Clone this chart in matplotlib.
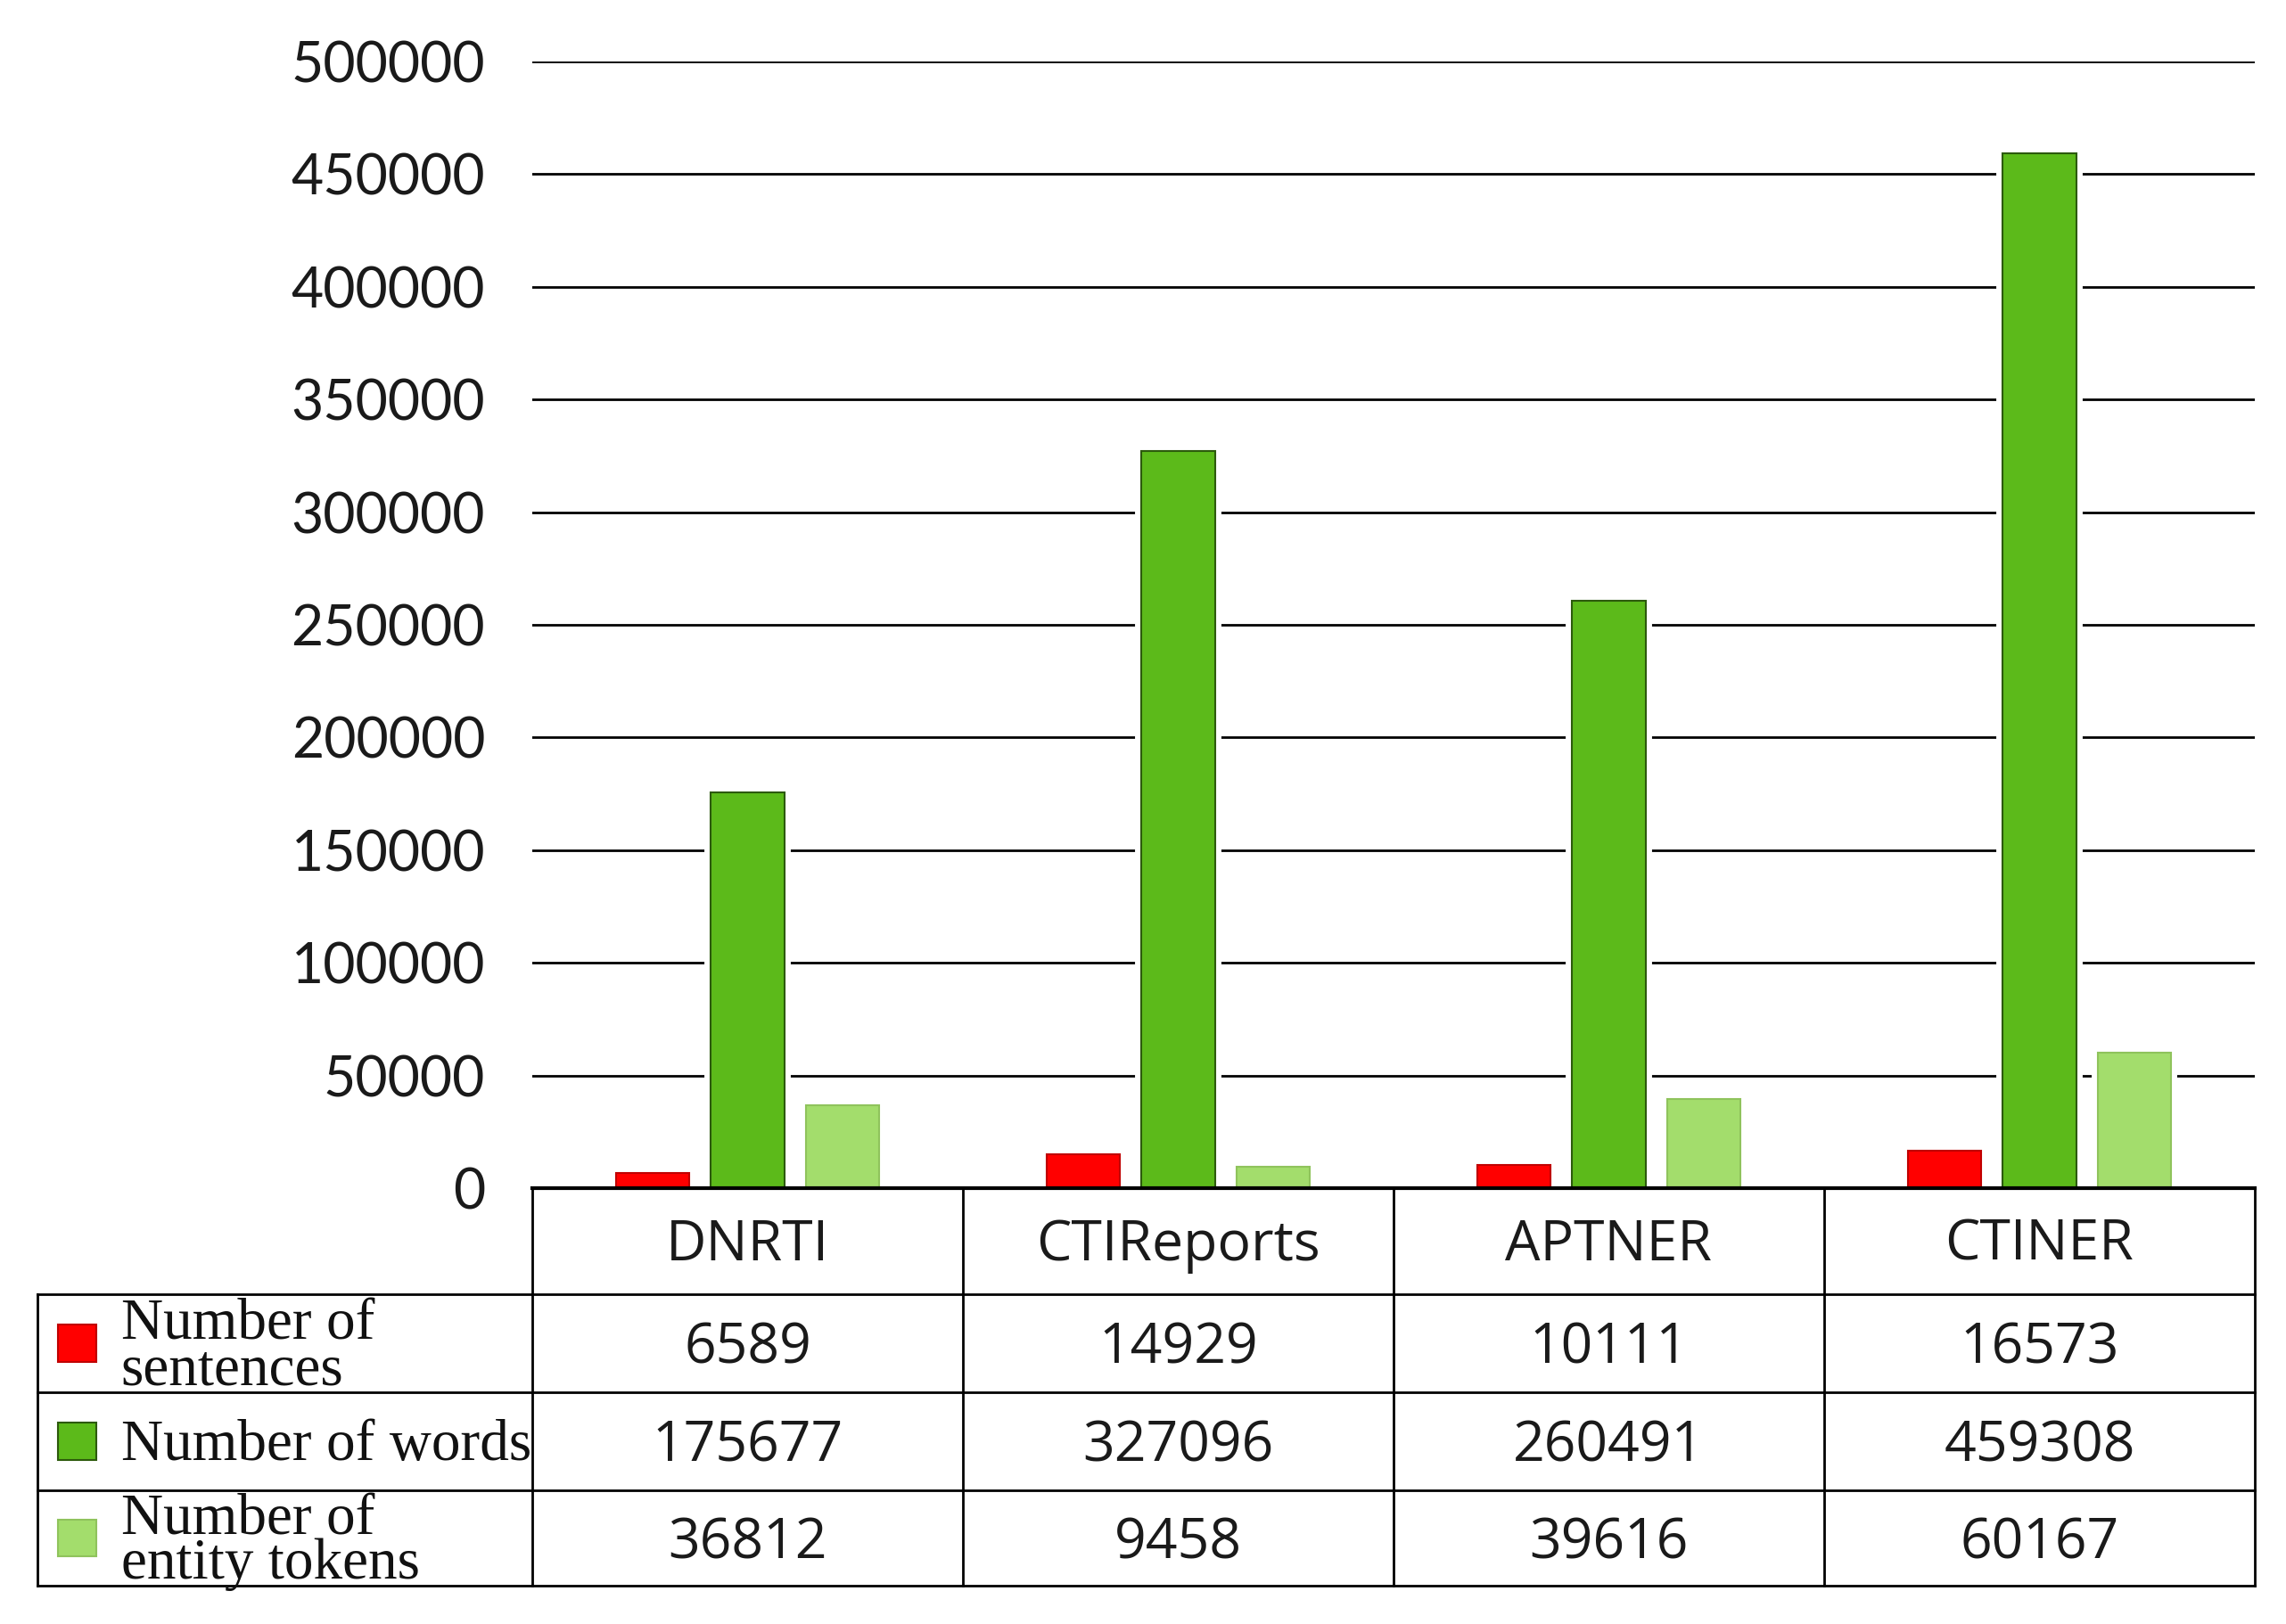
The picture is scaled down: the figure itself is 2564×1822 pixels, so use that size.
import numpy as np
import matplotlib
matplotlib.use("Agg")
import matplotlib.pyplot as plt
import matplotlib.patheffects as pe
from matplotlib.transforms import blended_transform_factory
from matplotlib.patches import Rectangle

datasets = ["DNRTI", "CTIReports", "APTNER", "CTINER"]
sentences = [6589, 14929, 10111, 16573]
words = [175677, 327096, 260491, 459308]
entity_tokens = [36812, 9458, 39616, 60167]
series_labels = ["Number of\nsentences", "Number of words", "Number of\nentity tokens"]
yticks = np.arange(0, 500001, 50000)

colors = ["#ff0000", "#5cba1a", "#a3dd6c"]
edges = ["#c00000", "#2c5a0c", "#8fc35c"]

W, H = 2564, 1822
fig = plt.figure(figsize=(W / 100, H / 100), dpi=100)
left, right, top, zero = 597, 2529, 69, 1333
ax = fig.add_axes([left / W, 1 - zero / H, (right - left) / W, (zero - top) / H])

x = np.arange(len(datasets))
bw = 0.17
offs = [-0.22, 0.0, 0.22]
series = [sentences, words, entity_tokens]
halo = [pe.withStroke(linewidth=10, foreground="white")]
for vals, off, c, ec in zip(series, offs, colors, edges):
    bars = ax.bar(x + off, vals, bw, color=c, edgecolor=ec, linewidth=1.5, zorder=3)
    for b in bars:
        b.set_path_effects(halo)

ax.set_xlim(-0.5, 3.5)
ax.set_ylim(0, 500000)
ax.set_yticks(yticks)
ax.set_yticklabels([str(v) for v in yticks], fontfamily="Lato")
ax.yaxis.grid(True, color="black", linewidth=2)
ax.set_axisbelow(True)
for s in ["top", "right", "left", "bottom"]:
    ax.spines[s].set_visible(False)
ax.tick_params(axis="y", length=0, pad=38, labelsize=45, labelcolor="#1a1a1a")
ax.tick_params(axis="x", bottom=False, labelbottom=False)

# data table under the axes
tr = blended_transform_factory(ax.transData, ax.transAxes)
rows_y = [0, -0.0944, -0.181, -0.268, -0.353]
x_leg = -1.65
lw = 2
for xb in [-0.5, 0.5, 1.5, 2.5, 3.5]:
    ax.plot([xb, xb], [rows_y[0], rows_y[-1]], color="black", lw=lw, transform=tr, clip_on=False)
ax.plot([x_leg, x_leg], [rows_y[1], rows_y[-1]], color="black", lw=lw, transform=tr, clip_on=False)
ax.plot([-0.5, 3.5], [0, 0], color="black", lw=lw + 1, transform=tr, clip_on=False, zorder=4)
for yb in rows_y[1:]:
    ax.plot([x_leg, 3.5], [yb, yb], color="black", lw=lw, transform=tr, clip_on=False)

for i, name in enumerate(datasets):
    ax.text(i, (rows_y[0] + rows_y[1]) / 2 - 0.004, name, transform=tr, ha="center", va="center",
            fontsize=45, fontfamily="Open Sans", color="#1a1a1a")

for r, (vals, lab, c, ec) in enumerate(zip(series, series_labels, colors, edges)):
    yc = (rows_y[r + 1] + rows_y[r + 2]) / 2
    for i, v in enumerate(vals):
        ax.text(i, yc - 0.005, str(v), transform=tr, ha="center", va="center",
                fontsize=45, fontfamily="Open Sans", color="#1a1a1a")
    sq = 0.033
    ax.add_patch(Rectangle((-1.601, yc - sq / 2), 0.089, sq, transform=tr, clip_on=False,
                           facecolor=c, edgecolor=ec, lw=1.5))
    ax.text(-1.455, yc - 0.004, lab, transform=tr, ha="left", va="center", fontsize=47,
            fontfamily="Liberation Serif", linespacing=0.8, color="#111111")

fig.savefig("out.png", dpi=100, facecolor="white")
